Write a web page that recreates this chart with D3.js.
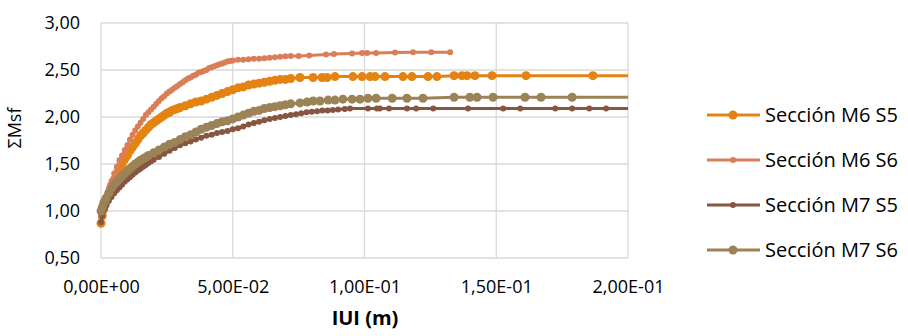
<!DOCTYPE html>
<html><head><meta charset="utf-8">
<script src="https://cdn.jsdelivr.net/npm/d3@7"></script>
<style>body{margin:0;background:#fff}svg{display:block}text{font-family:"Open Sans",sans-serif;fill:#000}</style>
</head><body><svg id="c" width="908" height="336"></svg>
<script>
const seriesNames = ["Sección M6 S5","Sección M6 S6","Sección M7 S5","Sección M7 S6"];
const xTicks = [0,0.05,0.1,0.15,0.2];
const xTickLabels = ["0,00E+00","5,00E-02","1,00E-01","1,50E-01","2,00E-01"];
const yTicks = [0.5,1,1.5,2,2.5,3];
const yTickLabels = ["0,50","1,00","1,50","2,00","2,50","3,00"];

const m6s5X = [0,0.0005,0.001,0.0015,0.002,0.0025,0.003,0.0035,0.004,0.005,0.006,0.007,0.008,0.009,0.010,0.011,0.012,0.013,0.014,0.015,0.016,0.017,0.018,0.019,0.020,0.021,0.022,0.023,0.024,0.025,0.026,0.027,0.028,0.029,0.030,0.032,0.034,0.036,0.038,0.040,0.042,0.044,0.046,0.048,0.050,0.052,0.054,0.056,0.058,0.060,0.062,0.064,0.066,0.068,0.070,0.072,0.0755,0.0805,0.0839,0.0858,0.0888,0.0956,0.0991,0.1021,0.104,0.1078,0.1146,0.118,0.1241,0.1275,0.134,0.137,0.1389,0.1419,0.1484,0.1613,0.1867,0.215];
const m6s5Y = [0.87,0.95,1.02,1.06,1.10,1.14,1.18,1.22,1.26,1.33,1.39,1.45,1.50,1.55,1.59,1.64,1.68,1.72,1.76,1.80,1.83,1.86,1.89,1.92,1.94,1.96,1.98,2.00,2.02,2.04,2.05,2.07,2.08,2.09,2.10,2.12,2.14,2.16,2.17,2.19,2.21,2.23,2.25,2.27,2.29,2.31,2.32,2.34,2.35,2.36,2.37,2.38,2.39,2.40,2.40,2.41,2.42,2.42,2.42,2.42,2.43,2.43,2.43,2.43,2.43,2.43,2.43,2.43,2.43,2.43,2.44,2.44,2.44,2.44,2.44,2.44,2.44,2.44];

const m6s6X = [0,0.0005,0.001,0.0015,0.002,0.0025,0.003,0.0035,0.004,0.005,0.006,0.007,0.008,0.009,0.010,0.011,0.012,0.013,0.014,0.015,0.016,0.017,0.018,0.019,0.020,0.021,0.022,0.023,0.024,0.025,0.026,0.027,0.028,0.029,0.030,0.031,0.032,0.033,0.034,0.035,0.036,0.037,0.038,0.039,0.040,0.041,0.042,0.043,0.044,0.045,0.046,0.047,0.048,0.049,0.050,0.052,0.054,0.056,0.058,0.060,0.062,0.064,0.066,0.068,0.070,0.072,0.075,0.079,0.0854,0.0884,0.0953,0.0991,0.101,0.1044,0.1116,0.1184,0.1253,0.1325];
const m6s6Y = [0.93,1.00,1.06,1.11,1.15,1.20,1.24,1.28,1.32,1.40,1.47,1.54,1.59,1.65,1.70,1.76,1.81,1.86,1.90,1.94,1.98,2.02,2.05,2.08,2.11,2.14,2.17,2.20,2.22,2.25,2.27,2.29,2.31,2.33,2.35,2.37,2.39,2.41,2.42,2.44,2.45,2.47,2.48,2.49,2.50,2.52,2.53,2.54,2.55,2.56,2.57,2.58,2.59,2.595,2.60,2.61,2.61,2.615,2.62,2.62,2.625,2.63,2.635,2.64,2.645,2.65,2.65,2.655,2.665,2.67,2.675,2.68,2.68,2.68,2.685,2.69,2.69,2.69];

const m7s5X = [0,0.0005,0.001,0.0015,0.002,0.003,0.004,0.005,0.006,0.007,0.008,0.009,0.010,0.011,0.012,0.013,0.014,0.015,0.016,0.017,0.018,0.019,0.020,0.022,0.024,0.026,0.028,0.030,0.032,0.034,0.036,0.038,0.040,0.042,0.044,0.046,0.048,0.050,0.052,0.054,0.056,0.058,0.060,0.062,0.064,0.066,0.068,0.070,0.072,0.074,0.076,0.078,0.080,0.082,0.084,0.086,0.088,0.090,0.0925,0.0945,0.1013,0.1047,0.1058,0.1093,0.1161,0.1196,0.1261,0.1393,0.1526,0.1591,0.1724,0.1788,0.1853,0.1917,0.215];
const m7s5Y = [0.88,0.95,1.00,1.03,1.06,1.11,1.15,1.19,1.22,1.25,1.28,1.31,1.335,1.36,1.385,1.41,1.43,1.45,1.47,1.49,1.51,1.53,1.545,1.575,1.61,1.64,1.67,1.70,1.72,1.74,1.76,1.78,1.80,1.81,1.83,1.84,1.85,1.87,1.88,1.90,1.92,1.935,1.95,1.965,1.98,1.99,2.00,2.01,2.02,2.03,2.04,2.05,2.055,2.06,2.07,2.07,2.075,2.08,2.085,2.09,2.09,2.09,2.09,2.09,2.09,2.09,2.09,2.09,2.09,2.09,2.09,2.09,2.09,2.09,2.09];

const m7s6X = [0,0.0005,0.001,0.0015,0.002,0.003,0.004,0.005,0.006,0.007,0.008,0.009,0.010,0.011,0.012,0.013,0.014,0.015,0.016,0.017,0.018,0.020,0.022,0.024,0.026,0.028,0.030,0.032,0.034,0.036,0.038,0.040,0.042,0.044,0.046,0.048,0.050,0.052,0.054,0.056,0.058,0.060,0.062,0.064,0.066,0.068,0.070,0.072,0.0755,0.0782,0.0805,0.0831,0.0862,0.0888,0.0918,0.0953,0.0983,0.1013,0.1044,0.1105,0.1161,0.1222,0.134,0.14,0.1427,0.1488,0.1609,0.167,0.1788,0.215];
const m7s6Y = [1.00,1.04,1.08,1.11,1.14,1.19,1.24,1.28,1.31,1.34,1.37,1.40,1.425,1.45,1.475,1.50,1.52,1.54,1.555,1.57,1.59,1.62,1.65,1.68,1.71,1.73,1.76,1.79,1.81,1.84,1.87,1.89,1.91,1.93,1.95,1.96,1.98,2.00,2.02,2.04,2.06,2.07,2.09,2.10,2.11,2.12,2.13,2.14,2.15,2.16,2.17,2.17,2.18,2.18,2.19,2.19,2.19,2.20,2.20,2.20,2.20,2.20,2.21,2.21,2.21,2.21,2.21,2.21,2.21,2.21];

const colors = ["#E48312","#DA7E58","#865640","#9B8357"];
const radii = [4.5,3,3,4.5];
const seriesX = [m6s5X,m6s6X,m7s5X,m7s6X];
const seriesY = [m6s5Y,m6s6Y,m7s5Y,m7s6Y];

const svg = d3.select("#c");
const L=101,R=628,T=23,B=258;
const x = d3.scaleLinear().domain([0,0.2]).range([L,R]);
const y = d3.scaleLinear().domain([0.5,3]).range([B,T]);

svg.append("defs").append("clipPath").attr("id","pc").append("rect")
  .attr("x",L-6).attr("y",T-6).attr("width",R-L+6).attr("height",B-T+12);

const g = svg.append("g");
g.selectAll("line.h").data(yTicks).join("line")
  .attr("x1",L).attr("x2",R).attr("y1",d=>y(d)).attr("y2",d=>y(d))
  .attr("stroke","#d9d9d9").attr("stroke-width",1.3);
g.selectAll("line.v").data(xTicks).join("line")
  .attr("y1",T).attr("y2",B).attr("x1",d=>x(d)).attr("x2",d=>x(d))
  .attr("stroke","#d9d9d9").attr("stroke-width",1.3);

const xAxis = d3.axisBottom(x).tickValues(xTicks).tickFormat((d,i)=>xTickLabels[i]).tickSize(0).tickPadding(22);
const ax = svg.append("g").attr("transform",`translate(0,${B})`).call(xAxis);
ax.select(".domain").remove();
ax.selectAll("text").attr("font-size",18).attr("font-family","Open Sans");
const yAxis = d3.axisLeft(y).tickValues(yTicks).tickFormat((d,i)=>yTickLabels[i]).tickSize(0).tickPadding(21);
const ay = svg.append("g").attr("transform",`translate(${L},0)`).call(yAxis);
ay.select(".domain").remove();
ay.selectAll("text").attr("font-size",18).attr("font-family","Open Sans");

const plot = svg.append("g").attr("clip-path","url(#pc)");
seriesX.forEach((xs,i)=>{
  const pts = xs.map((v,j)=>[v,seriesY[i][j]]);
  plot.append("path").datum(pts)
    .attr("fill","none").attr("stroke",colors[i]).attr("stroke-width",3).attr("stroke-linejoin","round")
    .attr("d",d3.line().x(d=>x(d[0])).y(d=>y(d[1])));
  plot.selectAll(null).data(pts.filter(p=>p[0]<=0.2)).join("circle")
    .attr("cx",d=>x(d[0])).attr("cy",d=>y(d[1])).attr("r",radii[i]).attr("fill",colors[i]);
});

svg.append("text").attr("x",365).attr("y",325).attr("text-anchor","middle")
  .attr("font-size",20).attr("font-weight","bold").text("IUI (m)");
svg.append("text").attr("transform","translate(21,128) rotate(-90)").attr("text-anchor","middle")
  .attr("font-size",18).text("ΣMsf");

const legY = [115,160,205,250];
seriesNames.forEach((n,i)=>{
  const lg = svg.append("g");
  lg.append("line").attr("x1",707).attr("x2",760).attr("y1",legY[i]).attr("y2",legY[i])
    .attr("stroke",colors[i]).attr("stroke-width",3);
  lg.append("circle").attr("cx",733).attr("cy",legY[i]).attr("r",radii[i]).attr("fill",colors[i]);
  lg.append("text").attr("x",765).attr("y",legY[i]).attr("dy","0.35em").attr("font-size",20).text(n);
});
</script></body></html>
